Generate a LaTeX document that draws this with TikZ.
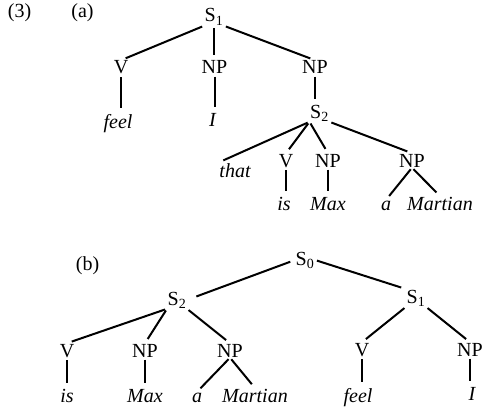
\documentclass[tikz,border=0pt]{standalone}
\usepackage{fontspec}
\setmainfont{Liberation Serif}
\usepackage{tikz}

\begin{document}
\begin{tikzpicture}[x=1pt, y=-1pt,
    catnode/.style={anchor=base, inner sep=0.5pt, font=\fontsize{20}{24}\selectfont},
    leafnode/.style={catnode, font=\fontsize{20}{24}\selectfont\itshape},
    branch/.style={line width=2pt, shorten <=2pt, shorten >=5pt}]
    \useasboundingbox (0,0) rectangle (482,412);

    % 编号
    \node[catnode] (ex) at (19.5,18) {(3)};
    \node[catnode] (laba) at (82.5,18) {(a)};

    % (a) 上层
    \node[catnode] (s1a) at (214,22) {S\textsubscript{1}};
    \node[catnode] (v1) at (121,74) {V};
    \node[catnode] (np1) at (214.5,74) {NP};
    \node[catnode] (np2) at (315,74) {NP};
    \node[leafnode] (feel1) at (118,128) {feel};
    \node[leafnode] (i1) at (212.5,126) {I};
    \node[catnode] (s2a) at (319.5,118) {S\textsubscript{2}};

    % (a) 内嵌句
    \node[leafnode] (that) at (235,177) {that};
    \node[catnode] (v2) at (286,167) {V};
    \node[catnode] (np3) at (328,167) {NP};
    \node[catnode] (np4) at (412,167) {NP};
    \node[leafnode] (is1) at (284,210) {is};
    \node[leafnode] (max1) at (328,210) {Max};
    \node[leafnode] (a1) at (386,210) {a};
    \node[leafnode] (martian1) at (440,210) {Martian};

    % (a) 枝
    \draw[branch] (s1a.south west) -- (v1.north);
    \draw[branch] (s1a.south) -- (s1a.south |- np1.north);
    \draw[branch] (s1a.south east) -- (np2.north);
    \draw[branch] (v1.south) -- (v1.south |- feel1.north);
    \draw[branch] (np1.south) -- (np1.south |- i1.north);
    \draw[branch] (np2.south) -- (np2.south |- s2a.north);
    \draw[branch] (s2a.south west) -- (that.north west);
    \draw[branch] (s2a.south west) -- (v2.north);
    \draw[branch] (s2a.south west) -- (np3.north);
    \draw[branch] (s2a.south east) -- (np4.north);
    \draw[branch] (v2.south) -- (v2.south |- is1.north);
    \draw[branch] (np3.south) -- (np3.south |- max1.north);
    \draw[branch] (np4.south) -- (a1.north);
    \draw[branch] (np4.south) -- (martian1.north);

    % (b) 节点
    \node[catnode] (labb) at (87.5,270) {(b)};
    \node[catnode] (s0) at (305,265) {S\textsubscript{0}};
    \node[catnode] (s2b) at (177,305) {S\textsubscript{2}};
    \node[catnode] (s1b) at (416,303) {S\textsubscript{1}};
    \node[catnode] (v3) at (67,357) {V};
    \node[catnode] (np5) at (145,357) {NP};
    \node[catnode] (np6) at (230,357) {NP};
    \node[catnode] (v4) at (362,356) {V};
    \node[catnode] (np7) at (470,356) {NP};
    \node[leafnode] (is2) at (67,402) {is};
    \node[leafnode] (max2) at (145,402) {Max};
    \node[leafnode] (a2) at (197,402) {a};
    \node[leafnode] (martian2) at (255,402) {Martian};
    \node[leafnode] (feel2) at (358,402) {feel};
    \node[leafnode] (i2) at (472,400) {I};

    % (b) 枝
    \draw[branch, shorten <=5pt, shorten >=10pt] (s0.west) -- (s2b.east);
    \draw[branch] (s0.east) -- (s1b.north west);
    \draw[branch] (s2b.south west) -- (v3.north);
    \draw[branch] (s2b.south west) -- (np5.north);
    \draw[branch] (s2b.south east) -- (np6.north);
    \draw[branch] (v3.south) -- (v3.south |- is2.north);
    \draw[branch] (np5.south) -- (np5.south |- max2.north);
    \draw[branch] (np6.south) -- (a2.north);
    \draw[branch] (np6.south) -- (martian2.north);
    \draw[branch] (s1b.south west) -- (v4.north);
    \draw[branch] (s1b.south east) -- (np7.north);
    \draw[branch] (v4.south) -- (v4.south |- feel2.north);
    \draw[branch] (np7.south) -- (np7.south |- i2.north);
\end{tikzpicture}
\end{document}
